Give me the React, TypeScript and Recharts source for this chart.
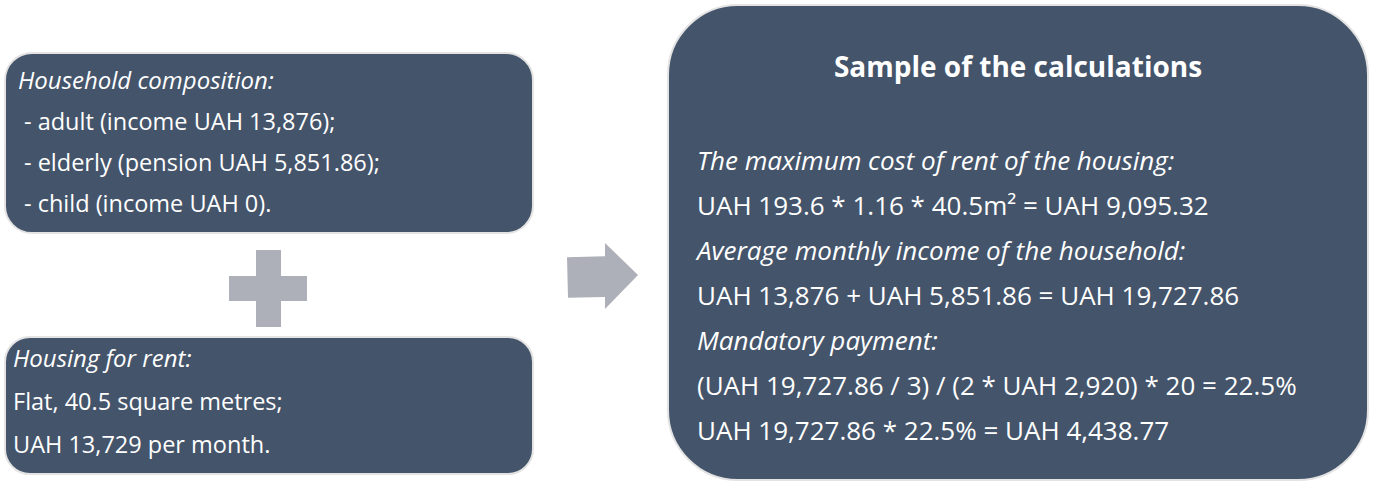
import React from 'react';
import { ComposedChart, XAxis, YAxis, ReferenceArea, ReferenceDot, Rectangle } from 'recharts';

const W = 1374;
const H = 482;

// ---- text content ----
const householdTitle = 'Household composition:';
const householdLines = [
  '- adult (income UAH 13,876);',
  '- elderly (pension UAH 5,851.86);',
  '- child (income UAH 0).',
];
const housingTitle = 'Housing for rent:';
const housingLines = ['Flat, 40.5 square metres;', 'UAH 13,729 per month.'];
const calcTitle = 'Sample of the calculations';
const calcLines = [
  'The maximum cost of rent of the housing:',
  'UAH 193.6 * 1.16 * 40.5m\u00B2 = UAH 9,095.32',
  'Average monthly income of the household:',
  'UAH 13,876 + UAH 5,851.86 = UAH 19,727.86',
  'Mandatory payment:',
  '(UAH 19,727.86 / 3) / (2 * UAH 2,920) * 20 = 22.5%',
  'UAH 19,727.86 * 22.5% = UAH 4,438.77',
];
const calcItalicRows = [0, 2, 4];

// ---- shapes (diagram layout in chart coordinates) ----
const boxes = [
  { id: 'household', x1: 5, x2: 533, y1: 53, y2: 233, r: 27 },
  { id: 'housing', x1: 5, x2: 533, y1: 337, y2: 474, r: 25 },
  { id: 'calc', x1: 668, x2: 1368, y1: 5, y2: 480, r: 70 },
];
const plusBars = [
  { id: 'v', x1: 256, x2: 281, y1: 250, y2: 327 },
  { id: 'h', x1: 229, x2: 307, y1: 276, y2: 301 },
];
const arrowBox = { x1: 567, x2: 638, y1: 243, y2: 309 };

const BOX_FILL = '#44546A';
const BOX_STROKE = '#e3e3e3';
const GREY = '#adb0b8';
const FONT = "'Open Sans', sans-serif";

const makeText = (text: string, opts: { size: number; italic?: boolean; bold?: boolean; anchor?: string }) =>
  (p: any) => (
    <text
      x={p.cx}
      y={p.cy}
      fill="#ffffff"
      fontFamily={FONT}
      fontSize={opts.size}
      fontStyle={opts.italic ? 'italic' : 'normal'}
      fontWeight={opts.bold ? 700 : 400}
      textAnchor={opts.anchor || 'start'}
    >
      {text}
    </text>
  );

export default function App() {
  const leftSize = 23.5;
  const rightSize = 26;
  const dots: any[] = [];

  dots.push({ key: 'ht', x: 18, y: 89, el: makeText(householdTitle, { size: leftSize + 0.5, italic: true }) });
  householdLines.forEach((t, i) =>
    dots.push({ key: 'hl' + i, x: 24, y: 130 + i * 41, el: makeText(t, { size: leftSize }) })
  );
  dots.push({ key: 'rt', x: 13, y: 367, el: makeText(housingTitle, { size: leftSize + 0.5, italic: true }) });
  housingLines.forEach((t, i) =>
    dots.push({ key: 'rl' + i, x: 13, y: 410 + i * 43, el: makeText(t, { size: leftSize }) })
  );
  dots.push({ key: 'ct', x: 1018, y: 77, el: makeText(calcTitle, { size: 28, bold: true, anchor: 'middle' }) });
  calcLines.forEach((t, i) =>
    dots.push({
      key: 'cl' + i,
      x: 697,
      y: 170 + i * 45,
      el: makeText(t, { size: rightSize, italic: calcItalicRows.includes(i) }),
    })
  );

  return (
    <div style={{ position: 'absolute', left: 0, top: 0, width: W, height: H, background: '#ffffff' }}>
      <ComposedChart width={W} height={H} data={[]} margin={{ top: 0, right: 0, bottom: 0, left: 0 }}>
        <XAxis type="number" dataKey="x" domain={[0, W]} hide allowDataOverflow />
        <YAxis type="number" dataKey="y" domain={[0, H]} reversed hide allowDataOverflow />
        {boxes.map((b) => (
          <ReferenceArea
            key={b.id}
            x1={b.x1}
            x2={b.x2}
            y1={b.y1}
            y2={b.y2}
            ifOverflow="visible"
            shape={(p: any) => (
              <Rectangle
                x={p.x}
                y={p.y}
                width={p.width}
                height={p.height}
                radius={b.r}
                fill={BOX_FILL}
                stroke={BOX_STROKE}
                strokeWidth={2}
              />
            )}
          />
        ))}
        {plusBars.map((b) => (
          <ReferenceArea
            key={b.id}
            x1={b.x1}
            x2={b.x2}
            y1={b.y1}
            y2={b.y2}
            ifOverflow="visible"
            shape={(p: any) => <rect x={p.x} y={p.y} width={p.width} height={p.height} fill={GREY} />}
          />
        ))}
        <ReferenceArea
          x1={arrowBox.x1}
          x2={arrowBox.x2}
          y1={arrowBox.y1}
          y2={arrowBox.y2}
          ifOverflow="visible"
          shape={(p: any) => {
            const { x, y, width: w, height: h } = p;
            const bx = x + w * 0.535;
            const pts = [
              [x, y + h * 0.215],
              [bx, y + h * 0.2],
              [bx, y],
              [x + w, y + h * 0.485],
              [bx, y + h],
              [bx, y + h * 0.82],
              [x + 1, y + h * 0.83],
            ]
              .map((q) => q.join(','))
              .join(' ');
            return <polygon points={pts} fill={GREY} />;
          }}
        />
        {dots.map((d) => (
          <ReferenceDot key={d.key} x={d.x} y={d.y} r={0} ifOverflow="visible" shape={d.el} />
        ))}
      </ComposedChart>
    </div>
  );
}
